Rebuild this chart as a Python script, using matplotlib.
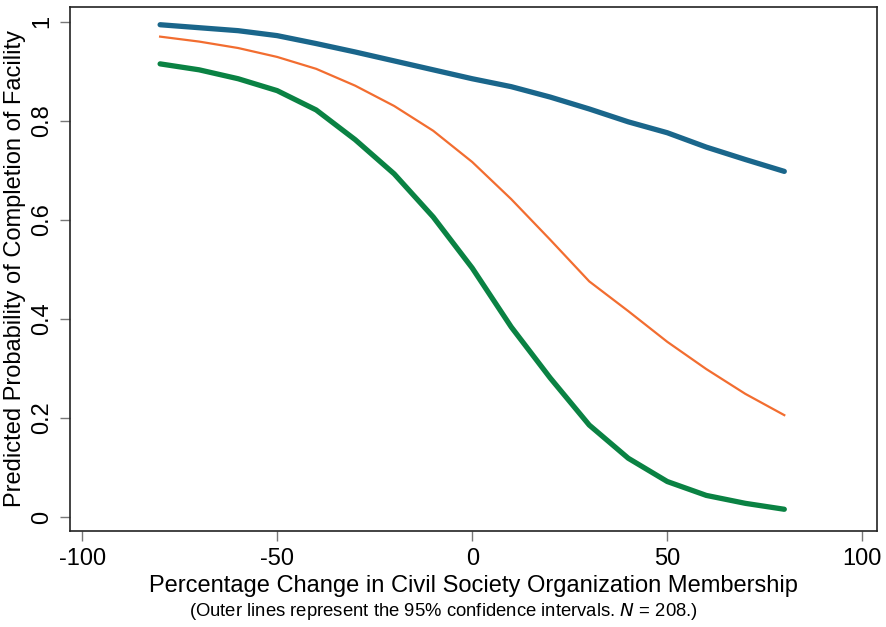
import matplotlib
matplotlib.use("Agg")
import matplotlib.pyplot as plt

plt.rcParams['font.family'] = ['Liberation Sans', 'DejaVu Sans']
plt.rcParams['axes.unicode_minus'] = False

change = [-80, -70, -60, -50, -40, -30, -20, -10, 0, 10, 20, 30, 40, 50, 60, 70, 80]
upper_ci = [0.994, 0.988, 0.982, 0.972, 0.956, 0.939, 0.921, 0.903, 0.885,
            0.869, 0.848, 0.824, 0.798, 0.776, 0.747, 0.722, 0.698]
predicted = [0.970, 0.960, 0.947, 0.929, 0.905, 0.871, 0.830, 0.780, 0.717,
             0.642, 0.560, 0.476, 0.416, 0.354, 0.299, 0.249, 0.206]
lower_ci = [0.915, 0.903, 0.885, 0.861, 0.822, 0.762, 0.693, 0.606, 0.503,
            0.384, 0.281, 0.186, 0.119, 0.072, 0.044, 0.028, 0.016]

fig = plt.figure(figsize=(8.86, 6.27), dpi=100)
ax = fig.add_axes([0.079, 0.153, 0.911, 0.836])

ax.plot(change, upper_ci, color='#1a668b', lw=3.8, solid_capstyle='round')
ax.plot(change, predicted, color='#f26d30', lw=1.6)
ax.plot(change, lower_ci, color='#0a8243', lw=3.8, solid_capstyle='round')

ax.set_xlim(-103.1, 103.8)
ax.set_ylim(-0.028, 1.03)
ax.set_xticks([-100, -50, 0, 50, 100])
ax.set_xticklabels(['-100', '-50', '0', '50', '100'])
ax.set_yticks([0, 0.2, 0.4, 0.6, 0.8, 1])
ax.set_yticklabels(['0', '0.2', '0.4', '0.6', '0.8', '1'], rotation=90, va='center')
ax.tick_params(axis='both', direction='out', length=7, width=1, color='#777777',
               labelsize=17, pad=5)

for s in ax.spines.values():
    s.set_linewidth(1.2)
    s.set_color('#222222')

ax.set_xlabel('Percentage Change in Civil Society Organization Membership', fontsize=17, labelpad=4)
ax.set_ylabel('Predicted Probability of Completion of Facility', fontsize=17, labelpad=4)
fig.text(0.5, 0.018, r'(Outer lines represent the 95% confidence intervals. $\mathit{N}$ = 208.)',
         ha='center', fontsize=13.3)

fig.savefig('out.png', dpi=100, facecolor='white')
